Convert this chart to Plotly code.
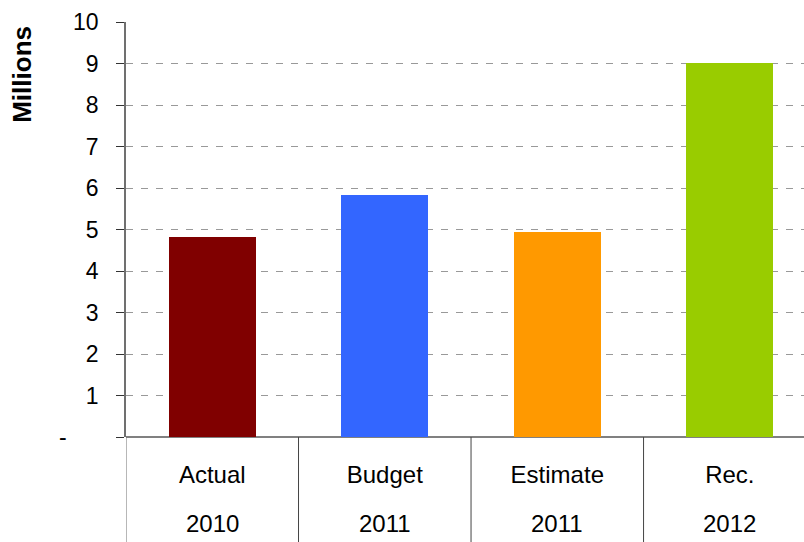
import plotly.graph_objects as go

# Category labels (two rows) and values in millions
categories = ["Actual", "Budget", "Estimate", "Rec."]
years = ["2010", "2011", "2011", "2012"]
values = [4.83, 5.82, 4.95, 9.02]
bar_colors = ["#800000", "#3366FF", "#FF9900", "#99CC00"]
y_ticks = list(range(0, 11))
y_ticktext = ["-\u00a0\u00a0\u00a0\u00a0\u00a0"] + [str(v) for v in y_ticks[1:]]

FONT = "Liberation Sans, Arial, sans-serif"
x_pos = list(range(len(categories)))

fig = go.Figure(
    go.Bar(
        x=x_pos,
        y=values,
        marker=dict(color=bar_colors, line=dict(width=0)),
        width=0.504,
        hoverinfo="skip",
    )
)

# Vertical dividers between the category cells below the axis
shapes = []
for i in range(len(categories)):
    shapes.append(dict(
        type="line", xref="x", yref="paper",
        x0=i - 0.5, x1=i - 0.5, y0=0, y1=-0.3,
        line=dict(color="#444444" if i else "#707070", width=1),
        layer="above",
    ))

# Second row of labels (years)
annotations = [
    dict(x=i, y=-0.209, xref="x", yref="paper", text=yr, showarrow=False,
         font=dict(family=FONT, size=24, color="#000000"),
         xanchor="center", yanchor="middle")
    for i, yr in enumerate(years)
]

# Axis title placed at the top of the value axis
annotations.append(dict(
    x=-0.1535, y=0.875, xref="paper", yref="paper", text="<b>Millions</b>",
    showarrow=False, textangle=-90,
    font=dict(family=FONT, size=26, color="#000000"),
    xanchor="center", yanchor="middle",
))

fig.update_layout(
    width=804, height=542,
    margin=dict(l=126, r=0, t=22, b=105),
    paper_bgcolor="white", plot_bgcolor="white",
    showlegend=False,
    bargap=0,
    shapes=shapes,
    annotations=annotations,
    font=dict(family=FONT, size=23, color="#000000"),
    xaxis=dict(
        range=[-0.5, 3.43],
        tickvals=x_pos, ticktext=categories,
        showgrid=False, zeroline=False, showline=False,
        ticks="", ticklabelstandoff=21,
        tickfont=dict(family=FONT, size=24, color="#000000"),
        fixedrange=True,
    ),
    yaxis=dict(
        range=[0, 10],
        tickvals=y_ticks, ticktext=y_ticktext,
        showgrid=True, gridcolor="#999999", gridwidth=1, griddash="7px,8px",
        zeroline=True, zerolinecolor="#808080", zerolinewidth=2,
        showline=True, linecolor="#707070", linewidth=1.5,
        ticks="outside", ticklen=8, tickcolor="#333333", tickwidth=1,
        ticklabelstandoff=13,
        tickfont=dict(family=FONT, size=23, color="#000000"),
        fixedrange=True,
    ),
)

fig.write_html("out.html", config={"displayModeBar": False})
